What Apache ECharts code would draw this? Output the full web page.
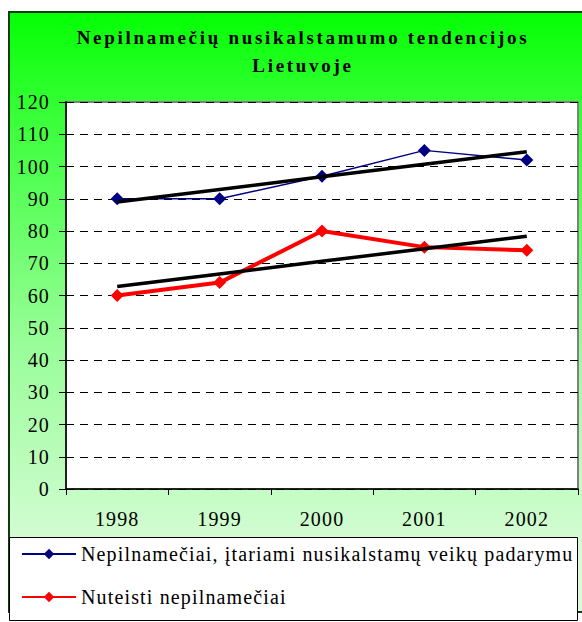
<!DOCTYPE html>
<html>
<head>
<meta charset="utf-8">
<script src="https://cdn.jsdelivr.net/npm/echarts@6/dist/echarts.min.js"></script>
<style>
  html, body { margin: 0; padding: 0; background: #fff; }
  #chart { width: 582px; height: 622px; }
  #chart svg text { font-family: 'Liberation Serif', serif !important; letter-spacing: 1.15px; }
  #chart svg text[style*="bold"] { letter-spacing: 2.7px; }
</style>
</head>
<body>
<div id="chart"></div>
<script>
// Data
const years = ['1998', '1999', '2000', '2001', '2002'];
const suspected = [90, 90, 97, 105, 102];   // Nepilnamečiai, įtariami nusikalstamų veikų padarymu
const convicted = [60, 64, 80, 75, 74];     // Nuteisti nepilnamečiai
const seriesNames = ['Nepilnamečiai, įtariami nusikalstamų veikų padarymu', 'Nuteisti nepilnamečiai'];
const titleText = 'Nepilnamečių nusikalstamumo tendencijos\nLietuvoje';

// Least-squares linear trend over category index
function linearTrend(values) {
  const n = values.length;
  const xs = values.map((_, i) => i + 1);
  const mx = xs.reduce((a, b) => a + b, 0) / n;
  const my = values.reduce((a, b) => a + b, 0) / n;
  let sxy = 0, sxx = 0;
  for (let i = 0; i < n; i++) {
    sxy += (xs[i] - mx) * (values[i] - my);
    sxx += (xs[i] - mx) * (xs[i] - mx);
  }
  const slope = sxy / sxx;
  return xs.map(x => +(my + slope * (x - mx)).toFixed(3));
}

const FONT = 'Liberation Serif';
const chart = echarts.init(document.getElementById('chart'), null, { renderer: 'svg' });

chart.setOption({
  animation: false,
  title: {
    text: titleText,
    left: 298,
    top: 18,
    textAlign: 'center',
    textStyle: {
      fontFamily: FONT,
      fontSize: 19,
      fontWeight: 'bold',
      color: '#000',
      lineHeight: 28
    }
  },
  graphic: [
    {
      type: 'rect',
      z: -10,
      shape: { x: 9, y: 12, width: 600, height: 600 },
      style: {
        fill: new echarts.graphic.LinearGradient(0, 0, 0, 1, [
          { offset: 0, color: '#04ff04' },
          { offset: 0.2, color: '#40ff40' },
          { offset: 0.55, color: '#98fd98' },
          { offset: 0.9, color: '#d6fcd6' },
          { offset: 1, color: '#dcfcdc' }
        ]),
        stroke: '#103a10',
        lineWidth: 2
      }
    },
    {
      type: 'rect',
      z: 2,
      shape: { x: 9.5, y: 537.5, width: 568, height: 83 },
      style: { fill: '#fff', stroke: '#000', lineWidth: 1 }
    }
  ],
  grid: {
    left: 66,
    right: 4,
    top: 102,
    bottom: 133,
    show: true,
    backgroundColor: '#fff',
    borderColor: '#808080',
    borderWidth: 2
  },
  legend: {
    orient: 'vertical',
    left: 16,
    top: 539,
    itemWidth: 54,
    itemHeight: 13,
    itemGap: 23,
    data: seriesNames,
    textStyle: { fontFamily: FONT, fontSize: 20, color: '#000' },
    z: 5
  },
  xAxis: {
    type: 'category',
    data: years,
    boundaryGap: true,
    axisLine: { show: true, lineStyle: { color: '#000', width: 1.5 } },
    axisTick: { show: true, length: 6, lineStyle: { color: '#000' } },
    axisLabel: { margin: 20, fontFamily: FONT, fontSize: 20, color: '#000' },
    splitLine: { show: false }
  },
  yAxis: {
    type: 'value',
    min: 0,
    max: 120,
    interval: 10,
    axisLine: { show: true, lineStyle: { color: '#000', width: 1.5 } },
    axisTick: { show: true, length: 7, lineStyle: { color: '#000' } },
    axisLabel: { margin: 16, fontFamily: FONT, fontSize: 20, color: '#000' },
    splitLine: { show: true, lineStyle: { color: '#000', type: [8, 6], width: 1 } }
  },
  series: [
    {
      name: seriesNames[0],
      type: 'line',
      data: suspected,
      color: '#000080',
      symbol: 'diamond',
      symbolSize: 13,
      lineStyle: { width: 1.5, color: '#000080' },
      itemStyle: { color: '#000080' },
      z: 3
    },
    {
      name: seriesNames[1],
      type: 'line',
      data: convicted,
      color: '#ff0000',
      symbol: 'diamond',
      symbolSize: 13,
      lineStyle: { width: 4, color: '#ff0000' },
      itemStyle: { color: '#ff0000' },
      z: 3
    },
    {
      name: 'trend-suspected',
      type: 'line',
      data: linearTrend(suspected),
      showSymbol: false,
      symbol: 'none',
      silent: true,
      lineStyle: { width: 3.5, color: '#000' },
      z: 4
    },
    {
      name: 'trend-convicted',
      type: 'line',
      data: linearTrend(convicted),
      showSymbol: false,
      symbol: 'none',
      silent: true,
      lineStyle: { width: 3.5, color: '#000' },
      z: 4
    }
  ]
});
</script>
</body>
</html>
